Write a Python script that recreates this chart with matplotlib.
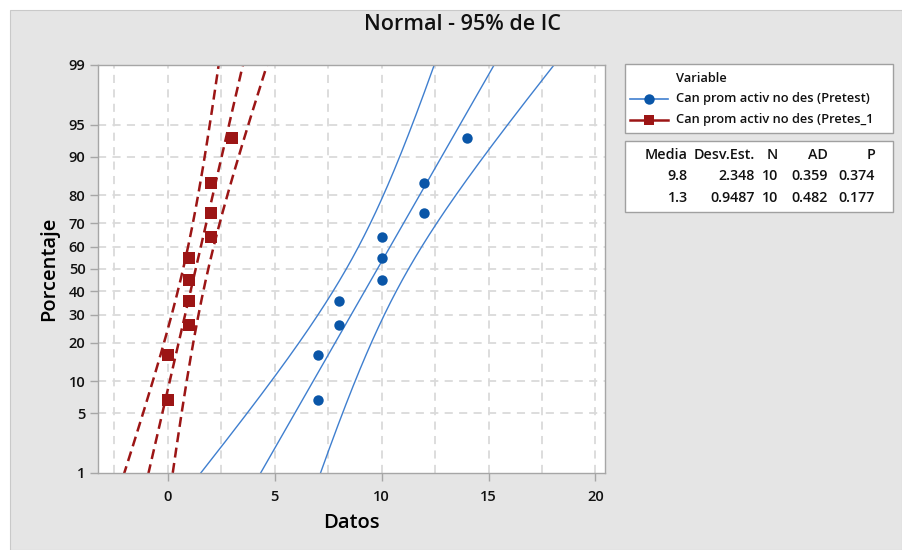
import numpy as np
import matplotlib
matplotlib.use("Agg")
import matplotlib.pyplot as plt
from matplotlib.patches import Rectangle
from matplotlib.lines import Line2D
from matplotlib.ticker import FixedLocator, MultipleLocator
from statistics import NormalDist

plt.rcParams['font.family'] = ['Open Sans', 'Noto Sans', 'DejaVu Sans']
plt.rcParams['font.weight'] = 'semibold'
plt.rcParams['axes.labelweight'] = 'semibold'
plt.rcParams['text.color'] = '#111111'

# ---- data -------------------------------------------------------------
pretest = [7, 7, 8, 8, 10, 10, 10, 12, 12, 14]
pretes_1 = [0, 0, 1, 1, 1, 1, 2, 2, 2, 3]
# median-rank plotting positions (percent) for n = 10
plot_pct = [6.7, 16.3, 26.0, 35.6, 45.2, 54.8, 64.4, 74.0, 83.7, 93.3]

series_names = ["Can prom activ no des (Pretest)", "Can prom activ no des (Pretes_1"]
means = [9.8, 1.3]
stdevs = [2.348, 0.9487]
n_obs = [10, 10]
ad_stats = [0.359, 0.482]
p_values = [0.374, 0.177]
mean_labels = ["9.8", "1.3"]
std_labels = ["2.348", "0.9487"]
table_header = ["Media", "Desv.Est.", "N", "AD", "P"]

pct_ticks = [1, 5, 10, 20, 30, 40, 50, 60, 70, 80, 90, 95, 99]
x_ticks = [0, 5, 10, 15, 20]

# ---- styling ------------------------------------------------------------
BLUE = "#0a56a8"
BLUE_LINE = "#3f7fcf"
RED = "#9c1515"
GRID = "#dadada"
SPINE = "#a6a6a6"
BG = "#e5e5e5"

W, H = 902, 550
fig = plt.figure(figsize=(W / 100, H / 100), dpi=100)
fig.patch.set_facecolor("white")


def fx(px):
    return px / W


def fy(py):
    return 1 - py / H


fig.patches.append(Rectangle((fx(10), 0), 1 - fx(10), fy(10), transform=fig.transFigure,
                             facecolor=BG, edgecolor="#c9c9c9", lw=0.8, zorder=-10))

# ---- normal probability scale -------------------------------------------
_nd = NormalDist()
_ppf = np.vectorize(_nd.inv_cdf, otypes=[float])
_cdf = np.vectorize(_nd.cdf, otypes=[float])


def pct_to_z(pct):
    p = np.clip(np.asarray(pct, dtype=float) / 100.0, 1e-9, 1 - 1e-9)
    return _ppf(p)


def z_to_pct(z):
    return _cdf(np.asarray(z, dtype=float)) * 100.0


ax = fig.add_axes([fx(98), fy(473), fx(605) - fx(98), fy(65) - fy(473)])
ax.set_yscale("function", functions=(pct_to_z, z_to_pct))
ax.set_xlim(-3.27, 20.45)
ax.set_ylim(1, 99)
ax.set_facecolor("white")

ax.yaxis.set_major_locator(FixedLocator(pct_ticks))
ax.set_yticklabels([str(t) for t in pct_ticks])
ax.yaxis.set_minor_locator(FixedLocator([]))
ax.xaxis.set_major_locator(FixedLocator(x_ticks))
ax.xaxis.set_minor_locator(MultipleLocator(2.5))
ax.tick_params(axis="both", which="major", direction="out", length=6, width=1,
               color=SPINE, labelsize=10.5, labelcolor="#111111", pad=3)
ax.tick_params(axis="x", which="minor", length=0)
ax.tick_params(axis="x", which="major", pad=6)
for s in ax.spines.values():
    s.set_color(SPINE)
    s.set_linewidth(1)

for xv in np.arange(-2.5, 20.01, 2.5):
    ax.axvline(xv, color=GRID, lw=1.3, dashes=(4.5, 3.5), zorder=0)
for pv in pct_ticks[1:-1]:
    ax.axhline(pv, color=GRID, lw=1.3, dashes=(4.5, 3.5), zorder=0)

# ---- fitted lines with 95% confidence bands ------------------------------
zc = 1.959964
z = np.linspace(-3.2, 3.2, 400)
pct_line = z_to_pct(z)
for data, m, s, n, col, mk, ms, dashed in [
    (pretest, means[0], stdevs[0], n_obs[0], BLUE, "o", 7.5, False),
    (pretes_1, means[1], stdevs[1], n_obs[1], RED, "s", 8.5, True),
]:
    fit = m + z * s
    hw = zc * s * np.sqrt(1.0 / n + z ** 2 / (2.0 * n))
    line_col = BLUE_LINE if not dashed else col
    kw = dict(color=line_col, lw=1.8 if dashed else 1.0, zorder=2)
    if dashed:
        kw["dashes"] = (4, 2.2)
    for xs in (fit, fit - hw, fit + hw):
        ax.plot(xs, pct_line, **kw)
    ax.plot(data, plot_pct, linestyle="none", marker=mk, ms=ms, color=col,
            markeredgewidth=0, zorder=3)

ax.set_xlabel("Datos", fontsize=14.5, labelpad=7)
ax.set_ylabel("Porcentaje", fontsize=14.5, labelpad=7)

fig.text(fx(462), fy(25), "Normal - 95% de IC", ha="center", va="center", fontsize=15.5)

# ---- legend box ---------------------------------------------------------
fig.patches.append(Rectangle((fx(625), fy(133)), fx(893) - fx(625), fy(64) - fy(133),
                             transform=fig.transFigure, facecolor="white",
                             edgecolor="#a0a0a0", lw=1))
fig.text(fx(676), fy(78), "Variable", ha="left", va="center", fontsize=9.3)
for i, (name, col, mk) in enumerate([(series_names[0], BLUE, "o"),
                                      (series_names[1], RED, "s")]):
    yy = fy(99 + 21 * i)
    lc = BLUE_LINE if col == BLUE else col
    fig.lines.append(Line2D([fx(630), fx(668)], [yy, yy], transform=fig.transFigure,
                            color=lc, lw=1.2 if col == BLUE else 1.8))
    fig.lines.append(Line2D([fx(649)], [yy], transform=fig.transFigure, marker=mk,
                            ms=7.5, color=col, markeredgewidth=0))
    fig.text(fx(676), yy, name, ha="left", va="center", fontsize=9.3)

# ---- statistics table -----------------------------------------------------
fig.patches.append(Rectangle((fx(625), fy(212)), fx(893) - fx(625), fy(141) - fy(212),
                             transform=fig.transFigure, facecolor="white",
                             edgecolor="#a0a0a0", lw=1))
col_right = [688, 755, 778, 828, 875]
for cx, h in zip(col_right, table_header):
    fig.text(fx(cx), fy(155), h, ha="right", va="center", fontsize=10.3)
for r in range(2):
    row = [mean_labels[r], std_labels[r], str(n_obs[r]),
           f"{ad_stats[r]:.3f}", f"{p_values[r]:.3f}"]
    for cx, v in zip(col_right, row):
        fig.text(fx(cx), fy(176 + 22 * r), v, ha="right", va="center", fontsize=10.3)

fig.savefig("out.png", dpi=100)
